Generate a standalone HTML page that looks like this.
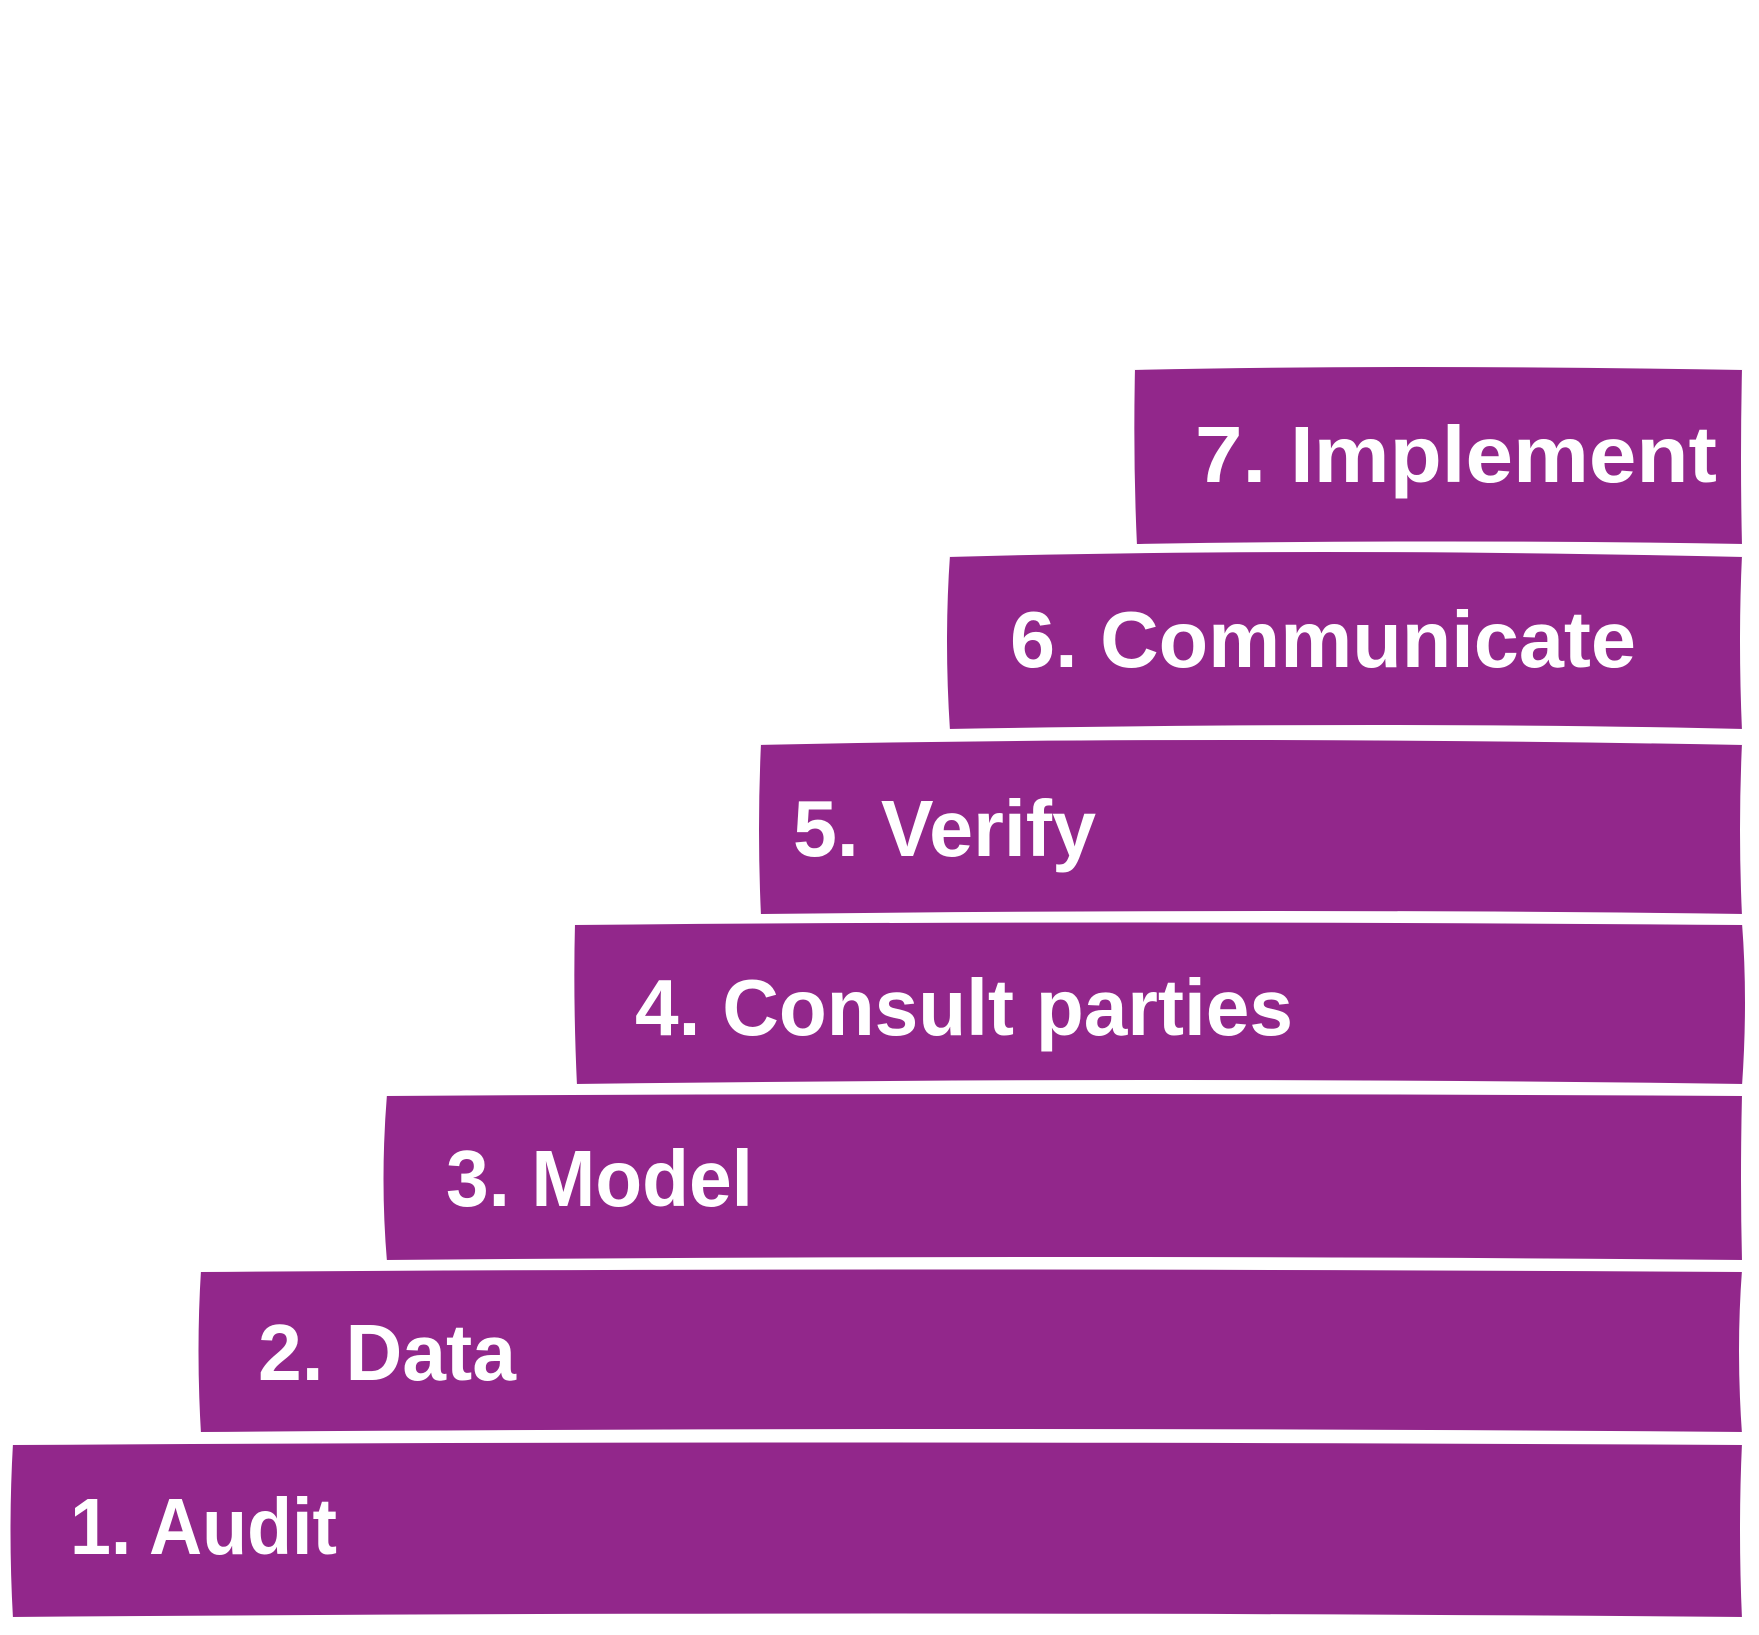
<!DOCTYPE html>
<html><head><meta charset="utf-8"><style>
html,body{margin:0;padding:0;background:#fff}
svg{display:block}
text{font-family:"Liberation Sans",sans-serif;font-weight:bold;fill:#fff;font-size:80px}
</style></head><body>
<svg width="1759" height="1635" viewBox="0 0 1759 1635" xmlns="http://www.w3.org/2000/svg">
<g fill="#92278b" stroke="#fff" stroke-width="4">
<path d="M1133 368 Q1400 362 1744 368 Q1742 460 1744 546 Q1450 541 1135 546 Q1131 460 1133 368Z"/>
<path d="M948 555 Q1300 545 1744 555 Q1740 640 1744 731 Q1400 723 948 731 Q942 640 948 555Z"/>
<path d="M759 743 Q1200 733 1744 743 Q1740 830 1744 916 Q1300 910 759 916 Q755 830 759 743Z"/>
<path d="M573 923 Q1100 918 1744 923 Q1750 1000 1744 1086 Q1200 1078 575 1086 Q571 1000 573 923Z"/>
<path d="M385 1094 Q1000 1090 1744 1094 Q1742 1180 1744 1262 Q1100 1256 385 1262 Q378 1180 385 1094Z"/>
<path d="M199 1270 Q900 1265 1744 1270 Q1738 1350 1744 1434 Q1000 1428 199 1434 Q194 1350 199 1270Z"/>
<path d="M11 1443 Q800 1438 1744 1443 Q1740 1530 1744 1619 Q900 1612 11 1619 Q6 1530 11 1443Z"/>
</g>
<text x="1195" y="482" textLength="522" lengthAdjust="spacingAndGlyphs">7. Implement</text>
<text x="1010" y="667" textLength="626" lengthAdjust="spacingAndGlyphs">6. Communicate</text>
<text x="793" y="856" textLength="303" lengthAdjust="spacingAndGlyphs">5. Verify</text>
<text x="635" y="1035" textLength="658" lengthAdjust="spacingAndGlyphs">4. Consult parties</text>
<text x="446" y="1206" textLength="307" lengthAdjust="spacingAndGlyphs">3. Model</text>
<text x="258" y="1380" textLength="258" lengthAdjust="spacingAndGlyphs">2. Data</text>
<text x="70" y="1554" textLength="267" lengthAdjust="spacingAndGlyphs">1. Audit</text>
</svg>
</body></html>
